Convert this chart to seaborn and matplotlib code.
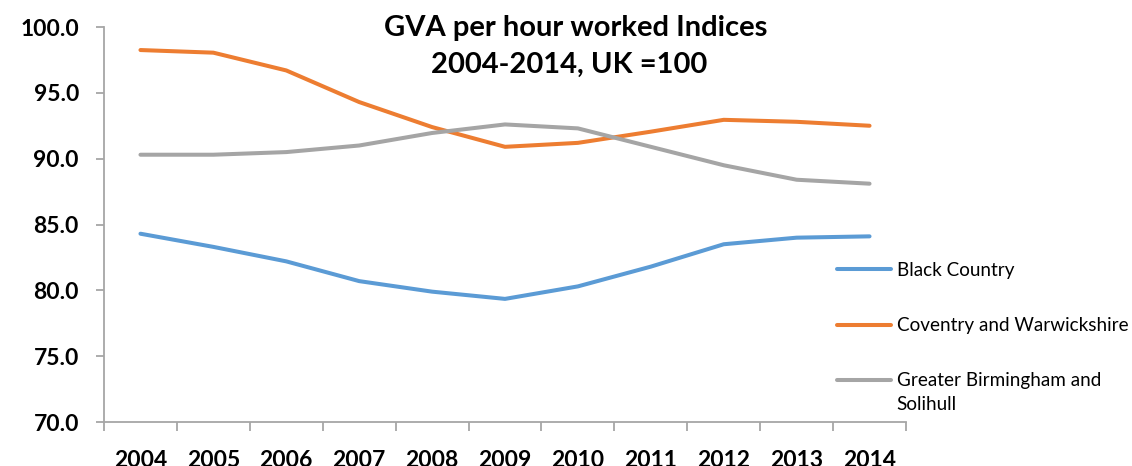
import matplotlib
matplotlib.use("Agg")
import matplotlib.pyplot as plt
import seaborn as sns
import pandas as pd
import numpy as np
from matplotlib.lines import Line2D

years = [2004, 2005, 2006, 2007, 2008, 2009, 2010, 2011, 2012, 2013, 2014]
black_country = [84.3, 83.3, 82.2, 80.7, 79.9, 79.35, 80.3, 81.8, 83.5, 84.0, 84.1]
coventry_warwickshire = [98.25, 98.05, 96.7, 94.3, 92.4, 90.9, 91.2, 92.05, 92.95, 92.8, 92.5]
greater_birmingham = [90.3, 90.3, 90.5, 91.0, 91.95, 92.6, 92.3, 90.9, 89.5, 88.4, 88.1]
series_names = ["Black Country", "Coventry and Warwickshire", "Greater Birmingham and Solihull"]
legend_labels = ["Black Country", "Coventry and Warwickshire", "Greater Birmingham and"]
colors = ["#5B9BD5", "#ED7D31", "#A5A5A5"]
y_ticks = [70.0, 75.0, 80.0, 85.0, 90.0, 95.0, 100.0]
title_lines = ["GVA per hour worked Indices", "2004-2014, UK =100"]

df = pd.DataFrame({
    "year": years * 3,
    "value": black_country + coventry_warwickshire + greater_birmingham,
    "region": [series_names[0]] * len(years) + [series_names[1]] * len(years) + [series_names[2]] * len(years),
})

sns.set_theme(style="white")
plt.rcParams["font.family"] = ["Lato", "DejaVu Sans"]

W, H = 1132, 466
fig = plt.figure(figsize=(W / 100, H / 100), dpi=100)
ax = fig.add_axes([104 / W, (H - 422) / H, (906 - 104) / W, (422 - 27) / H])

sns.lineplot(data=df, x="year", y="value", hue="region", hue_order=series_names,
             palette=colors, linewidth=2.9, ax=ax, legend=False)
for ln in ax.get_lines():
    ln.set_solid_capstyle("round")
    ln.set_solid_joinstyle("round")

ax.set_xlim(years[0] - 0.5, years[-1] + 0.5)
ax.set_ylim(y_ticks[0], y_ticks[-1])
ax.set_yticks(y_ticks)
ax.set_yticklabels([f"{v:.1f}" for v in y_ticks])
ax.set_xticks(years)
ax.set_xticklabels([str(y) for y in years])
ax.set_xticks([y - 0.5 for y in years] + [years[-1] + 0.5], minor=True)
ax.set_xlabel("")
ax.set_ylabel("")

axis_col = "#A6A6A6"
for s in ["top", "right"]:
    ax.spines[s].set_visible(False)
for s in ["left", "bottom"]:
    ax.spines[s].set_color(axis_col)
    ax.spines[s].set_linewidth(1.3)

ax.tick_params(axis="y", which="major", direction="out", length=6, width=1.3,
               color=axis_col, pad=12, labelsize=16.5, labelcolor="black", left=True)
ax.tick_params(axis="x", which="major", length=0, pad=20, labelsize=16.5, labelcolor="black")
ax.tick_params(axis="x", which="minor", direction="out", length=6.5, width=1.3,
               color=axis_col, bottom=True)
for lab in ax.get_yticklabels() + ax.get_xticklabels():
    lab.set_fontweight("bold")

# title
fig.text(576 / W, (H - 36) / H, title_lines[0], ha="center", va="baseline",
         fontsize=21, fontweight="bold", color="black")
fig.text(569 / W, (H - 73) / H, title_lines[1], ha="center", va="baseline",
         fontsize=21, fontweight="bold", color="black")

# legend
handles = [Line2D([0], [0], color=c, lw=2.9, solid_capstyle="round") for c in colors]
fs = 13.6
fs_px = fs * 100 / 72
leg = fig.legend(handles, legend_labels, loc="upper left",
                 bbox_to_anchor=(837 / W, (H - 262) / H), bbox_transform=fig.transFigure,
                 frameon=False, fontsize=fs, borderpad=0, borderaxespad=0,
                 handlelength=54 / fs_px, handletextpad=6 / fs_px, labelspacing=2.02)
for t in leg.get_texts():
    t.set_color("black")
fig.text(896 / W, (H - 405) / H, "Solihull", ha="left", va="center", fontsize=fs, color="black")

fig.savefig("out.png", dpi=100)
